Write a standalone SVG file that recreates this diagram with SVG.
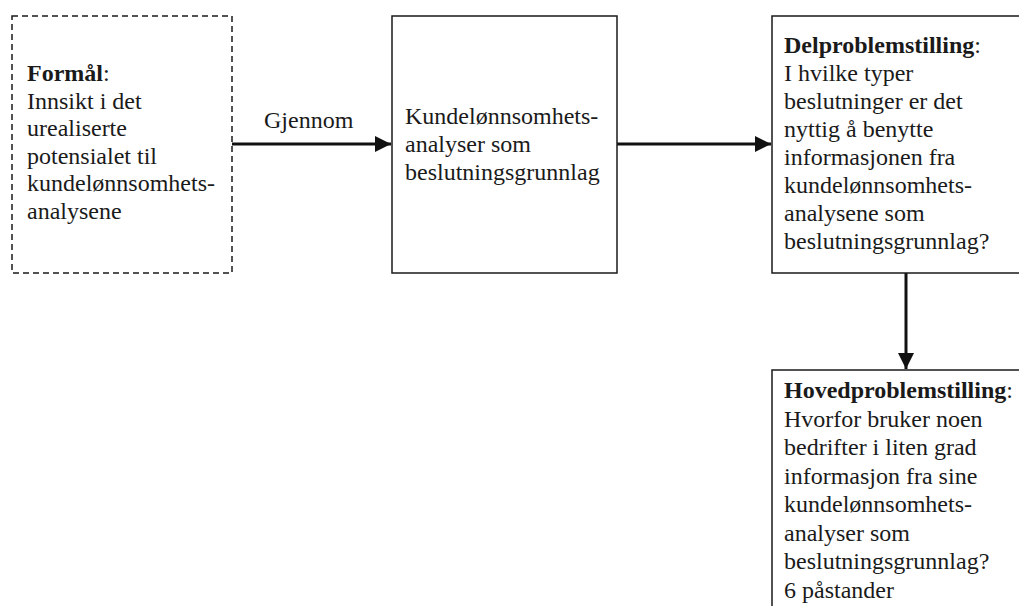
<svg xmlns="http://www.w3.org/2000/svg" width="1019" height="606" viewBox="0 0 1019 606">
<style>
.box{fill:#fff;stroke:#1a1a1a;stroke-width:1.5}
.dash{fill:#fff;stroke:#1a1a1a;stroke-width:1.5;stroke-dasharray:6 4}
.conn{stroke:#111;stroke-width:3;fill:none}
</style>
<defs>
<marker id="ah" viewBox="0 0 10 10" refX="10" refY="5" markerUnits="userSpaceOnUse" markerWidth="16" markerHeight="16" orient="auto">
<path d="M0,0 L10,5 L0,10 Z" fill="#111"/>
</marker>
</defs>
<rect width="1019" height="606" fill="#fff"/>
<g id="connectors">
<line class="conn" x1="232" y1="144" x2="391" y2="144" marker-end="url(#ah)"/>
<line class="conn" x1="617" y1="144" x2="771" y2="144" marker-end="url(#ah)"/>
<line class="conn" x1="906" y1="273" x2="906" y2="369" marker-end="url(#ah)"/>
</g>
<g id="connector-label">
<text font-family="'Liberation Serif'" font-size="24" fill="#1a1a1a" x="264" y="128">Gjennom</text>
</g>
<g id="node-formal">
<rect class="dash" x="12" y="16" width="220" height="257"/>
<text font-family="'Liberation Serif'" font-size="24" fill="#1a1a1a" x="27" y="81"><tspan font-weight="bold">Formål</tspan>:</text>
<text font-family="'Liberation Serif'" font-size="24" fill="#1a1a1a" x="27" y="108.5">Innsikt i det</text>
<text font-family="'Liberation Serif'" font-size="24" fill="#1a1a1a" x="27" y="136">urealiserte</text>
<text font-family="'Liberation Serif'" font-size="24" fill="#1a1a1a" x="27" y="163.5">potensialet til</text>
<text font-family="'Liberation Serif'" font-size="24" fill="#1a1a1a" x="27" y="191">kundelønnsomhets-</text>
<text font-family="'Liberation Serif'" font-size="24" fill="#1a1a1a" x="27" y="218.5">analysene</text>
</g>
<g id="node-kundelonnsomhet">
<rect class="box" x="392" y="16" width="225" height="257"/>
<text font-family="'Liberation Serif'" font-size="24" fill="#1a1a1a" x="405" y="124">Kundelønnsomhets-</text>
<text font-family="'Liberation Serif'" font-size="24" fill="#1a1a1a" x="405" y="152">analyser som</text>
<text font-family="'Liberation Serif'" font-size="24" fill="#1a1a1a" x="405" y="180">beslutningsgrunnlag</text>
</g>
<g id="node-delproblem">
<rect class="box" x="772" y="16" width="260" height="257"/>
<text font-family="'Liberation Serif'" font-size="24" fill="#1a1a1a" x="784" y="53"><tspan font-weight="bold">Delproblemstilling</tspan>:</text>
<text font-family="'Liberation Serif'" font-size="24" fill="#1a1a1a" x="784" y="81">I hvilke typer</text>
<text font-family="'Liberation Serif'" font-size="24" fill="#1a1a1a" x="784" y="109">beslutninger er det</text>
<text font-family="'Liberation Serif'" font-size="24" fill="#1a1a1a" x="784" y="137">nyttig å benytte</text>
<text font-family="'Liberation Serif'" font-size="24" fill="#1a1a1a" x="784" y="165">informasjonen fra</text>
<text font-family="'Liberation Serif'" font-size="24" fill="#1a1a1a" x="784" y="193">kundelønnsomhets-</text>
<text font-family="'Liberation Serif'" font-size="24" fill="#1a1a1a" x="784" y="221">analysene som</text>
<text font-family="'Liberation Serif'" font-size="24" fill="#1a1a1a" x="784" y="249">beslutningsgrunnlag?</text>
</g>
<g id="node-hovedproblem">
<rect class="box" x="772" y="370" width="260" height="250"/>
<text font-family="'Liberation Serif'" font-size="24" fill="#1a1a1a" x="784" y="398"><tspan font-weight="bold">Hovedproblemstilling</tspan>:</text>
<text font-family="'Liberation Serif'" font-size="24" fill="#1a1a1a" x="784" y="426.5">Hvorfor bruker noen</text>
<text font-family="'Liberation Serif'" font-size="24" fill="#1a1a1a" x="784" y="455">bedrifter i liten grad</text>
<text font-family="'Liberation Serif'" font-size="24" fill="#1a1a1a" x="784" y="483.5">informasjon fra sine</text>
<text font-family="'Liberation Serif'" font-size="24" fill="#1a1a1a" x="784" y="512">kundelønnsomhets-</text>
<text font-family="'Liberation Serif'" font-size="24" fill="#1a1a1a" x="784" y="540.5">analyser som</text>
<text font-family="'Liberation Serif'" font-size="24" fill="#1a1a1a" x="784" y="569">beslutningsgrunnlag?</text>
<text font-family="'Liberation Serif'" font-size="24" fill="#1a1a1a" x="784" y="597.5">6 påstander</text>
</g>
</svg>
